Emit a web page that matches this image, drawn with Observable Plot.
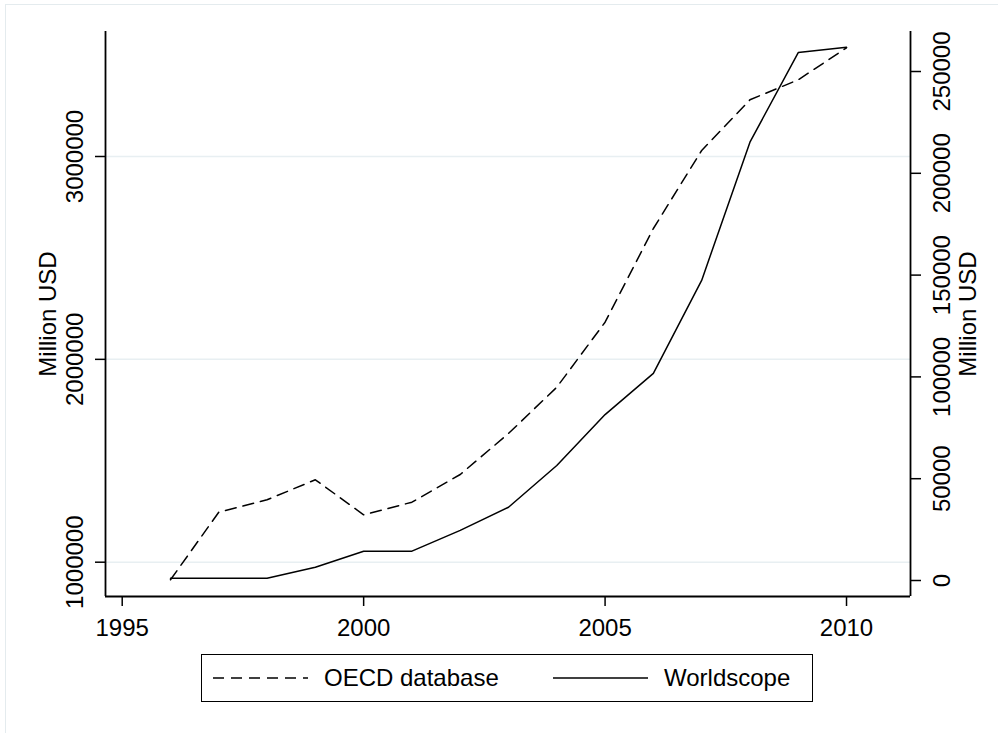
<!DOCTYPE html>
<html>
<head>
<meta charset="utf-8">
<script src="https://cdn.jsdelivr.net/npm/d3@7"></script>
<script src="https://cdn.jsdelivr.net/npm/@observablehq/plot@0.6"></script>
<style>
  html, body { margin: 0; padding: 0; background: #fff; }
  body { width: 998px; height: 733px; position: relative; overflow: hidden; font-family: "Liberation Sans", Arial, sans-serif; }
  #frame { position: absolute; left: 5px; top: 4px; width: 1100px; height: 900px; border-top: 1.5px solid #e4ebee; border-left: 1.5px solid #e4ebee; }
  #chart { position: absolute; left: 0; top: 0; }
  #legend { position: absolute; left: 201px; top: 654px; width: 610px; height: 46px; border: 1.5px solid #000; box-sizing: content-box; }
  #legend .item { position: absolute; top: 0; height: 46px; display: flex; align-items: center; font-size: 24px; color: #000; white-space: nowrap; }
  #legend svg { display: block; }
</style>
</head>
<body>
<div id="frame"></div>
<div id="chart"></div>
<div id="legend"></div>
<script>
// ---- data ----
const years = [1996, 1997, 1998, 1999, 2000, 2001, 2002, 2003, 2004, 2005, 2006, 2007, 2008, 2009, 2010];
const oecd = [913200, 1246500, 1307600, 1406200, 1233700, 1295800, 1432300, 1634500, 1862700, 2183100, 2645000, 3029600, 3279500, 3378100, 3535900];
const worldscope = [1100, 1100, 1100, 6500, 14400, 14400, 24600, 36000, 56500, 81500, 101700, 147400, 215300, 259300, 261900];
const seriesNames = ["OECD database", "Worldscope"];
const xTicks = [1995, 2000, 2005, 2010];
const leftTicks = [1000000, 2000000, 3000000];
const rightTicks = [0, 50000, 100000, 150000, 200000, 250000];
const axisTitle = "Million USD";

// ---- scales (left axis domain; right axis mapped onto it) ----
const L0 = 830900, L1 = 3616200;
const R0 = -7860, R1 = 269650;
const toLeft = v => L0 + (v - R0) * (L1 - L0) / (R1 - R0);
const fromLeft = v => R0 + (v - L0) * (R1 - R0) / (L1 - L0);
const xMin = 1994.654, xMax = 2011.325;

const oecdData = years.map((y, i) => ({year: y, value: oecd[i]}));
const wsData = years.map((y, i) => ({year: y, value: toLeft(worldscope[i])}));

const font = "Liberation Sans, Arial, sans-serif";

const chart = Plot.plot({
  width: 998,
  height: 650,
  marginTop: 31,
  marginBottom: 54,
  marginLeft: 105,
  marginRight: 88,
  x: {domain: [xMin, xMax]},
  y: {domain: [L0, L1]},
  style: {fontFamily: font, fontSize: "24px", color: "#000", background: "transparent", overflow: "visible"},
  marks: [
    Plot.gridY(leftTicks, {stroke: "#e8eff2", strokeOpacity: 1, strokeWidth: 1.5}),
    Plot.axisX(xTicks, {anchor: "bottom", tickSize: 10, tickPadding: 12, strokeWidth: 1.5, tickFormat: d => String(d), label: null, fontSize: 24, fontFamily: font}),
    Plot.axisY(leftTicks, {anchor: "left", tickSize: 10, tickPadding: 13, strokeWidth: 1.5, tickRotate: -90, textAnchor: "middle", lineAnchor: "bottom", tickFormat: d => String(d), label: null, fontSize: 24, fontFamily: font}),
    Plot.axisY(rightTicks.map(toLeft), {anchor: "right", tickSize: 10, tickPadding: 12, strokeWidth: 1.5, tickRotate: -90, textAnchor: "middle", lineAnchor: "top", tickFormat: d => String(Math.round(fromLeft(d) / 10) * 10), label: null, fontSize: 24, fontFamily: font}),
    Plot.text([axisTitle], {frameAnchor: "left", dx: -50, rotate: -90, textAnchor: "middle", lineAnchor: "bottom", fontSize: 24, fill: "#000"}),
    Plot.text([axisTitle], {frameAnchor: "right", dx: 65, rotate: -90, textAnchor: "middle", lineAnchor: "bottom", fontSize: 24, fill: "#000"}),
    Plot.ruleY([L0], {stroke: "#000", strokeWidth: 1.8}),
    Plot.ruleX([xMin], {stroke: "#000", strokeWidth: 1.8}),
    Plot.ruleX([xMax], {stroke: "#000", strokeWidth: 1.8}),
    Plot.line(oecdData, {x: "year", y: "value", stroke: "#000", strokeWidth: 1.5, strokeDasharray: "11,7"}),
    Plot.line(wsData, {x: "year", y: "value", stroke: "#000", strokeWidth: 1.5})
  ]
});
document.getElementById("chart").appendChild(chart);

// ---- legend ----
const legend = document.getElementById("legend");
const items = [
  {name: seriesNames[0], dash: "11,7", lineLeft: 11, textLeft: 122},
  {name: seriesNames[1], dash: null, lineLeft: 351, textLeft: 462}
];
items.forEach(it => {
  const l = document.createElement("div");
  l.className = "item";
  l.style.left = it.lineLeft + "px";
  l.innerHTML = `<svg width="95" height="4"><line x1="0" y1="2" x2="95" y2="2" stroke="#000" stroke-width="1.5" ${it.dash ? `stroke-dasharray="${it.dash}"` : ""}/></svg>`;
  legend.appendChild(l);
  const t = document.createElement("div");
  t.className = "item";
  t.style.left = it.textLeft + "px";
  t.textContent = it.name;
  legend.appendChild(t);
});
</script>
</body>
</html>
